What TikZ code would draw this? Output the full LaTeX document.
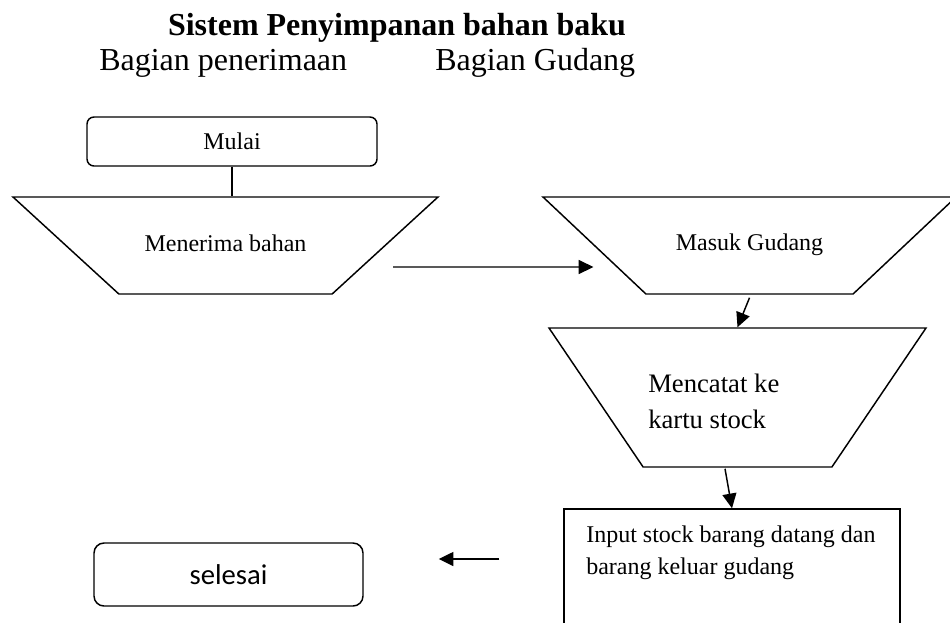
\documentclass[tikz,border=0pt]{standalone}
\usepackage{fontspec}
\setmainfont{Liberation Serif}
\newfontfamily\calibri{Carlito}
\usepackage{tikz}
\usetikzlibrary{shapes.geometric, arrows.meta}

\begin{document}
\begin{tikzpicture}[x=0.75pt, y=-0.75pt,
        every node/.style={inner sep=0pt},
        terminal/.style={draw, line width=1.1pt, rounded corners=5.25pt},
        io/.style={draw, line width=1.1pt, trapezium, shape border rotate=180, trapezium stretches body},
        proc/.style={draw, line width=1.1pt, rectangle},
        flow/.style={-{Triangle[length=11pt, width=10.5pt]}, line width=1.1pt}]
    \useasboundingbox (0,0) rectangle (950,622);
    \clip (0,0) rectangle (950,622);
    \node[font=\fontsize{24pt}{28pt}\selectfont\bfseries, anchor=base](judul)        at (397,35) {Sistem Penyimpanan bahan baku};
    \node[font=\fontsize{24pt}{28pt}\selectfont, anchor=base west](penerimaan)      at (99,70) {Bagian penerimaan};
    \node[font=\fontsize{24pt}{28pt}\selectfont, anchor=base west](gudang)          at (435,70) {Bagian Gudang};
    \node[terminal, minimum width=217.5pt, minimum height=36.75pt, font=\fontsize{18pt}{22pt}\selectfont](mulai) at (232,141.5) {Mulai};
    \node[io, trapezium angle=42.5, text height=40.5pt, text depth=32.25pt, minimum width=318.75pt, font=\fontsize{18pt}{22pt}\selectfont](terima) at (225.5,245.5) {Menerima bahan};
    \node[io, trapezium angle=43.3, text height=39.75pt, text depth=33pt, minimum width=309.75pt, font=\fontsize{18pt}{22pt}\selectfont](masuk) at (749.5,245.5) {Masuk Gudang};
    \node[io, trapezium angle=55.9, text height=52.125pt, text depth=52.125pt, minimum width=282.75pt](catat) at (737.5,397.5) {};
    \node[font=\fontsize{20pt}{27pt}\selectfont, align=left, anchor=base west](catatteks) at (648,428) {Mencatat ke\\kartu stock};
    \node[proc, minimum width=252pt, minimum height=120pt](input) at (732,589) {};
    \node[font=\fontsize{18pt}{24pt}\selectfont, align=left, anchor=base west](inputteks) at (586,574) {Input stock barang datang dan\\barang keluar gudang};
    \node[terminal, rounded corners=7.5pt, minimum width=201.75pt, minimum height=47.25pt, font=\calibri\fontsize{21.5pt}{26pt}\selectfont](selesai) at (228.5,574.5) {selesai};
    \path
        (mulai.south)
            edge [line width=1.1pt] (mulai.south |- terima.north)
        ([shift={(7,21.5)}]terima.east)
            edge [flow] ([shift={(0,21.5)}]masuk.west)
        ([shift={(0,3)}]masuk.south)
            edge [flow] (catat.north)
        ([shift={(-12.5,1)}]catat.south)
            edge [flow] (input.north)
        ([shift={(-64,-30)}]input.west)
            edge [flow] ([shift={(75,-15.5)}]selesai.east)
        ;
\end{tikzpicture}
\end{document}
